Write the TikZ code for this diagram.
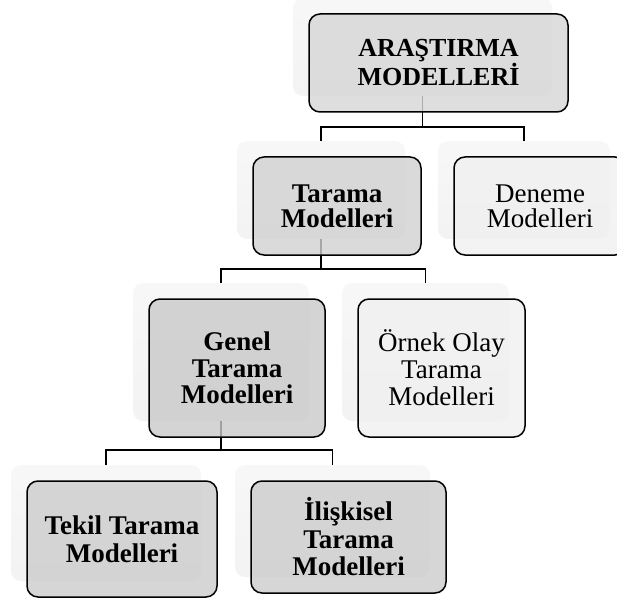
\documentclass[tikz,border=0pt]{standalone}
\usepackage{fontspec}
\setmainfont{Liberation Serif}
\pgfdeclareverticalshading{backshade}{100bp}{color(0bp)=(black!30); color(8bp)=(black!15); color(20bp)=(black!5); color(100bp)=(black!2)}
\tikzset{
  back/.style={rectangle, rounded corners=10pt, shading=backshade, inner sep=0pt},
  front/.style={rectangle, draw=black, line width=1.5pt, rounded corners=11pt, fill opacity=0.8, text opacity=1, inner sep=0pt, align=center},
  boldtxt/.style={font=\fontsize{27}{#1}\selectfont\bfseries},
  regtxt/.style={font=\fontsize{27}{#1}\selectfont},
  conn/.style={draw=black, line width=1.5pt},
}
\begin{document}
\begin{tikzpicture}[x=1pt,y=-1pt]
\useasboundingbox (0,0) rectangle (617,601);
% back boxes
\node[back, minimum width=259pt, minimum height=98pt] (Ab) at (422.5,47) {};
\node[back, minimum width=168pt, minimum height=98pt] (Tb) at (321,190) {};
\node[back, minimum width=172pt, minimum height=98pt] (Db) at (524,190) {};
\node[back, minimum width=176pt, minimum height=138pt] (Gb) at (221,352) {};
\node[back, minimum width=167pt, minimum height=138pt] (Ob) at (425.5,352) {};
\node[back, minimum width=190pt, minimum height=116pt] (Kb) at (106,523) {};
\node[back, minimum width=195pt, minimum height=112pt] (Ib) at (332.5,521) {};
% bus coordinates
\coordinate (bus1) at (0,127);
\coordinate (bus2) at (0,269);
\coordinate (bus3) at (0,450);
% connectors
\draw[conn] (Ab.south) -- (Ab.south |- bus1) -| (Tb.north);
\draw[conn] (Ab.south |- bus1) -| (Db.north);
\draw[conn] (Tb.south) -- (Tb.south |- bus2) -| (Gb.north);
\draw[conn] (Tb.south |- bus2) -| (Ob.north);
\draw[conn] (Gb.south) -- (Gb.south |- bus3) -| (Kb.north);
\draw[conn] (Gb.south |- bus3) -| (Ib.north);
% front boxes
\node[front, fill=black!16, font=\fontsize{26}{29}\selectfont\bfseries, minimum width=259pt, minimum height=98pt] (Af) at (438.5,63) {ARAŞTIRMA\\MODELLERİ};
\node[front, fill=black!18, boldtxt=25, minimum width=168pt, minimum height=98pt] (Tf) at (337,206) {Tarama\\Modelleri};
\node[front, fill=black!6, regtxt=25, minimum width=172pt, minimum height=98pt] (Df) at (540,206) {Deneme\\Modelleri};
\node[front, fill=black!21, boldtxt=26.5, minimum width=176pt, minimum height=138pt] (Gf) at (237,368) {Genel\\Tarama\\Modelleri};
\node[front, fill=black!6, regtxt=27, minimum width=167pt, minimum height=138pt] (Of) at (441.5,368) {Örnek Olay\\Tarama\\Modelleri};
\node[front, fill=black!20, boldtxt=28, minimum width=190pt, minimum height=116pt] (Kf) at (122,539) {Tekil Tarama\\Modelleri};
\node[front, fill=black!20, boldtxt=27.5, minimum width=195pt, minimum height=112pt] (If) at (348.5,537) {İlişkisel\\Tarama\\Modelleri};
\end{tikzpicture}
\end{document}
